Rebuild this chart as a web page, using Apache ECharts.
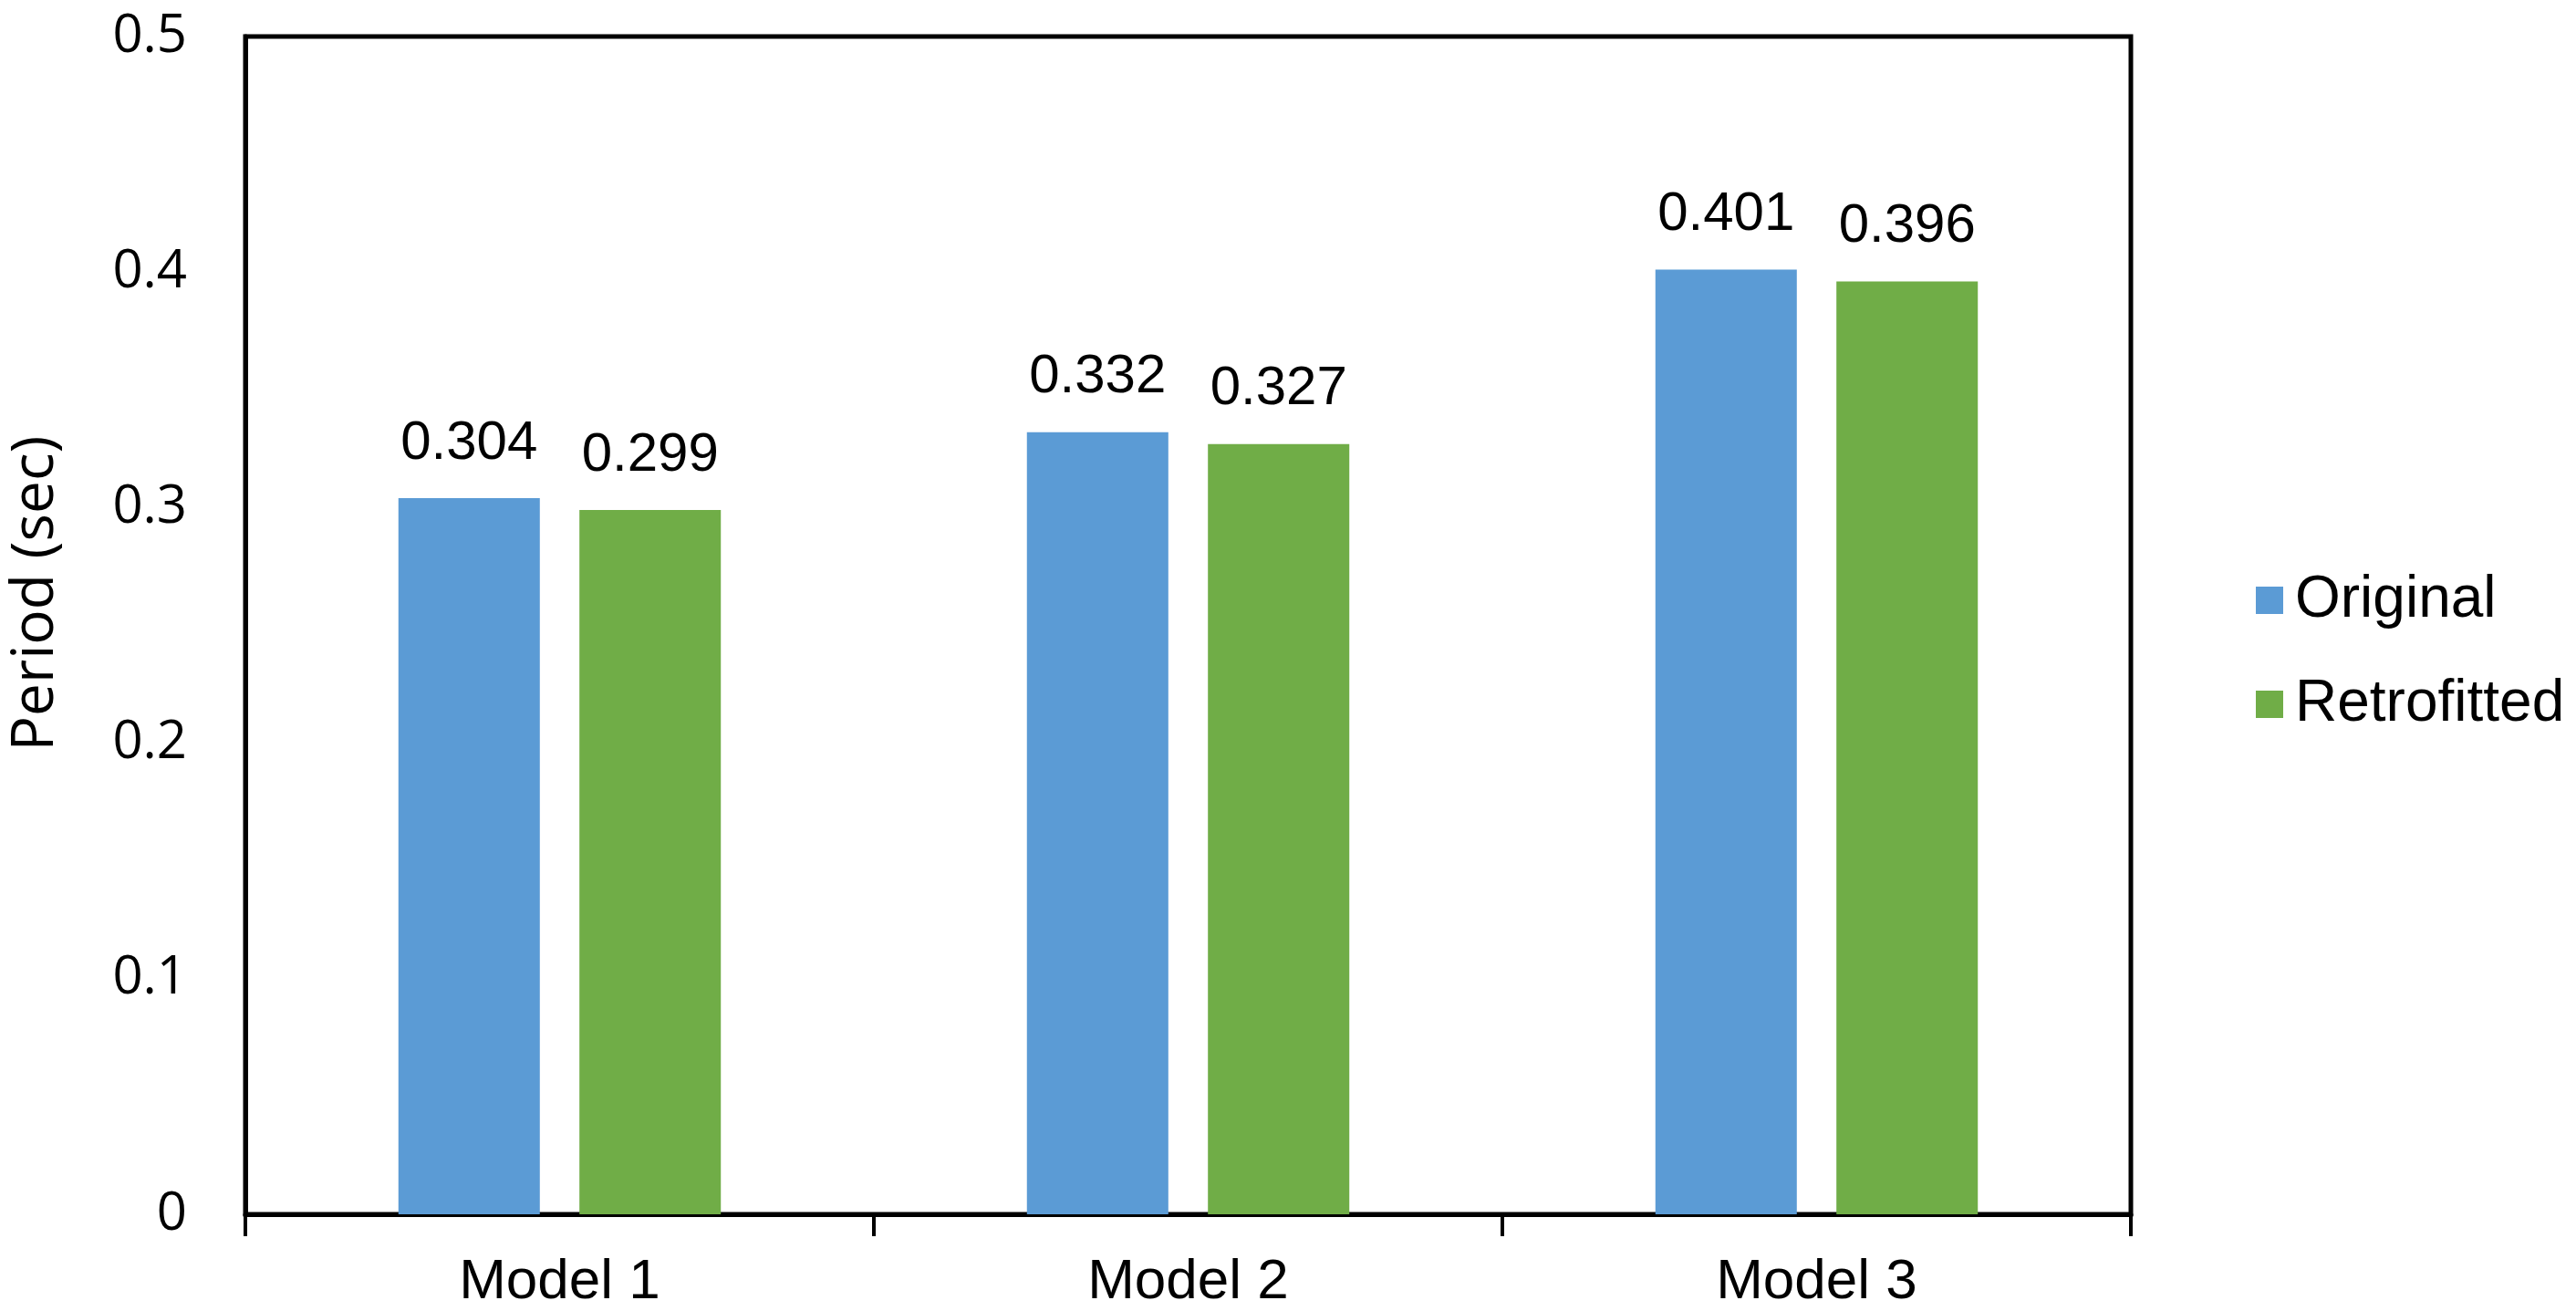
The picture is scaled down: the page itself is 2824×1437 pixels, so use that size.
<!DOCTYPE html>
<html><head><meta charset="utf-8">
<script src="https://cdn.jsdelivr.net/npm/echarts@6/dist/echarts.min.js"></script>
<style>html,body{margin:0;padding:0;background:#fff}#c{width:2824px;height:1437px}</style>
</head><body><div id="c"></div>
<script>
const categories = ['Model 1', 'Model 2', 'Model 3'];
const originalValues = [0.304, 0.332, 0.401];
const retrofittedValues = [0.299, 0.327, 0.396];
const seriesNames = ['Original', 'Retrofitted'];
const yTicks = [0, 0.1, 0.2, 0.3, 0.4, 0.5];

const chart = echarts.init(document.getElementById('c'));
const labelStyle = {show: true, position: 'top', distance: 30, color: '#000', fontSize: 60, fontFamily: 'Liberation Sans', formatter: p => p.value.toFixed(3)};
chart.setOption({
  animation: false,
  backgroundColor: '#fff',
  grid: {left: 267, right: 488, top: 40, bottom: 106, show: true, borderColor: '#000', borderWidth: 5, backgroundColor: 'transparent'},
  legend: {
    orient: 'vertical', left: 2468, top: 620, itemWidth: 30, itemHeight: 30, itemGap: 48,
    icon: 'rect',
    textStyle: {fontSize: 64, lineHeight: 66, fontFamily: 'Liberation Sans', color: '#000', padding: [0, 0, 0, 8]},
    data: seriesNames
  },
  xAxis: {
    type: 'category', data: categories,
    axisLine: {lineStyle: {color: '#000', width: 5}},
    axisTick: {show: true, length: 24, lineStyle: {color: '#000', width: 4}},
    axisLabel: {fontSize: 62, fontFamily: 'Liberation Sans', color: '#000', margin: 44}
  },
  yAxis: {
    type: 'value', min: yTicks[0], max: yTicks[yTicks.length-1], interval: 0.1,
    name: 'Period (sec)', nameLocation: 'middle', nameGap: 197,
    nameTextStyle: {fontSize: 64, fontFamily: 'Open Sans', color: '#000', padding: [0, 0, 0, 70]},
    axisLine: {show: true, lineStyle: {color: '#000', width: 5}},
    axisTick: {show: false},
    splitLine: {show: false},
    axisLabel: {fontSize: 58, fontFamily: 'Open Sans', color: '#000', margin: 64, align: 'right'}
  },
  series: [
    {name: seriesNames[0], type: 'bar', data: originalValues, barWidth: '22.5%', barGap: '28%', itemStyle: {color: '#5B9BD5'}, label: labelStyle},
    {name: seriesNames[1], type: 'bar', data: retrofittedValues, barWidth: '22.5%', itemStyle: {color: '#70AD47'}, label: labelStyle}
  ]
});
</script></body></html>
